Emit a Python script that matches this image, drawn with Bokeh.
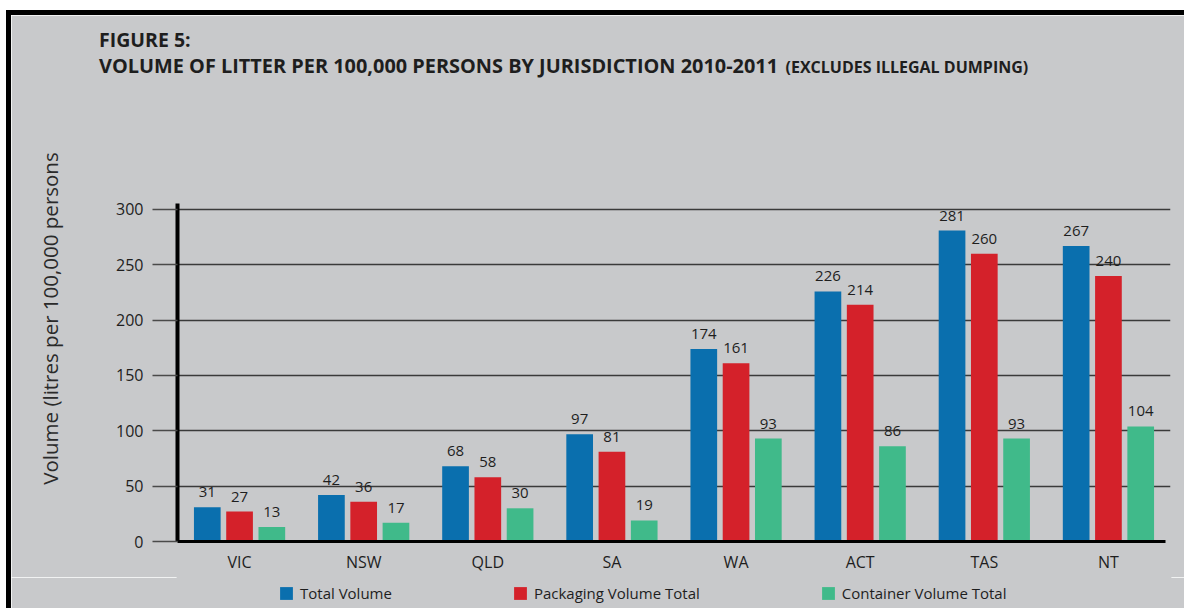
from bokeh.plotting import figure
from bokeh.layouts import column
from bokeh.models import (FixedTicker, Legend, LegendItem, Title, Range1d,
                          ColumnDataSource)
from bokeh.embed import file_html
from bokeh.resources import INLINE

jurisdictions = ["VIC", "NSW", "QLD", "SA", "WA", "ACT", "TAS", "NT"]
total_volume = [31, 42, 68, 97, 174, 226, 281, 267]
packaging_volume = [27, 36, 58, 81, 161, 214, 260, 240]
container_volume = [13, 17, 30, 19, 93, 86, 93, 104]
y_ticks = [0, 50, 100, 150, 200, 250, 300]
series_names = ["Total Volume", "Packaging Volume Total", "Container Volume Total"]

BG = "#c8c9cb"
BLUE = "#0a6fae"
RED = "#d4212a"
GREEN = "#40ba8a"
FONT = "Open Sans"
TXT = "#1e1e1e"

# page has an 11px (left) / 15px (top) white + black edge
W = 1173
FL, FT, FW, FH = 166, 80, 993, 446   # frame left / top / width / height (canvas px)
BOTTOM = 36
LEG_H = 31

p = figure(frame_width=FW, frame_height=FH, output_backend="svg", toolbar_location=None,
           x_range=Range1d(0, 8.0), y_range=Range1d(0, 403),
           min_border_left=FL, min_border_right=W - FL - FW, min_border_top=FT,
           min_border_bottom=BOTTOM,
           background_fill_color=BG, border_fill_color=BG,
           outline_line_color=BG, outline_line_width=2)

centers = [i + 0.5 for i in range(len(jurisdictions))]
bw = 0.215
off = 0.26
series = [total_volume, packaging_volume, container_volume]
colors = [BLUE, RED, GREEN]
offsets = [-off, 0.0, off]

for vals, col, o in zip(series, colors, offsets):
    src = ColumnDataSource(dict(x=[c + o for c in centers], top=vals,
                                lab=[str(v) for v in vals]))
    p.vbar(x="x", top="top", width=bw, source=src, fill_color=col, line_color=None)
    p.text(x="x", y="top", text="lab", source=src, text_align="center",
           text_baseline="bottom", y_offset=-10, text_font_size="15px",
           text_font={"value": FONT}, text_color=TXT)

# axes
p.yaxis.ticker = FixedTicker(ticks=y_ticks)
p.yaxis.bounds = (0, 305)
p.yaxis.axis_line_width = 4
p.yaxis.axis_line_color = "black"
p.yaxis.major_tick_out = 25
p.yaxis.major_tick_in = 0
p.yaxis.major_tick_line_color = "#4a4a4a"
p.yaxis.major_tick_line_width = 1.5
p.yaxis.minor_tick_line_color = None
p.yaxis.major_label_standoff = 9
p.yaxis.major_label_text_font = FONT
p.yaxis.major_label_text_font_size = "16px"
p.yaxis.major_label_text_color = TXT
p.yaxis.axis_label = "Volume (litres per 100,000 persons"
p.yaxis.axis_label_text_font = FONT
p.yaxis.axis_label_text_font_size = "20.5px"
p.yaxis.axis_label_text_font_style = "normal"
p.yaxis.axis_label_text_color = "#2a2a2a"
p.yaxis.axis_label_standoff = 49

p.xaxis.ticker = FixedTicker(ticks=centers)
p.xaxis.major_label_overrides = {c: j for c, j in zip(centers, jurisdictions)}
p.xaxis.bounds = (0, 7.96)
p.xaxis.axis_line_width = 3
p.xaxis.axis_line_color = "black"
p.xaxis.major_tick_out = 0
p.xaxis.major_tick_in = 0
p.xaxis.minor_tick_line_color = None
p.xaxis.major_label_standoff = 9
p.xaxis.major_label_text_font = FONT
p.xaxis.major_label_text_font_size = "16px"
p.xaxis.major_label_text_color = TXT

p.xgrid.visible = False
p.ygrid.ticker = FixedTicker(ticks=y_ticks[1:])
p.ygrid.grid_line_color = "#3a3a3a"
p.ygrid.grid_line_width = 1.5

# titles: closest to the frame first (standoffs tuned for placement)
t_paren = Title(text="(EXCLUDES ILLEGAL DUMPING)", align="left", offset=608,
                standoff=35.2, text_font=FONT, text_font_style="bold",
                text_font_size="16px", text_color=TXT)
t_main = Title(text="VOLUME OF LITTER PER 100,000 PERSONS BY JURISDICTION 2010-2011",
               align="left", offset=-78.5, standoff=-85.1, text_font=FONT,
               text_font_style="bold", text_font_size="19.9px", text_color=TXT)
t_fig = Title(text="FIGURE 5:", align="left", offset=-78.5, standoff=-32.8,
              text_font=FONT, text_font_style="bold", text_font_size="19.5px",
              text_color=TXT)
p.add_layout(t_paren, "above")
p.add_layout(t_main, "above")
p.add_layout(t_fig, "above")

# legend strip below the chart (its frame is aligned with the chart frame)
q = figure(width=W, height=LEG_H, output_backend="svg", toolbar_location=None,
           x_range=Range1d(0, 1), y_range=Range1d(0, 1), x_axis_type=None,
           y_axis_type=None, min_border=0,
           background_fill_color=BG, border_fill_color=BG,
           outline_line_color=BG, outline_line_width=2)
q.grid.visible = False
leg_renderers = [q.vbar(x=[-10], top=[0], width=0.1, fill_color=c, line_color=None)
                 for c in colors]
legend = Legend(items=[LegendItem(label=n, renderers=[r])
                       for n, r in zip(series_names, leg_renderers)],
                orientation="horizontal", location=(101, 5),
                label_text_font=FONT, label_text_font_size="15px", label_text_color=TXT,
                glyph_width=16, glyph_height=16, label_standoff=6, spacing=120,
                background_fill_alpha=0, border_line_color=None,
                padding=0, margin=0)
q.add_layout(legend)

page = column(p, q, spacing=0,
              styles={"margin-top": "10px", "margin-left": "6px",
                      "border-top": "5px solid black", "border-left": "5px solid black"})

open("out.html", "w").write(file_html(page, INLINE))
